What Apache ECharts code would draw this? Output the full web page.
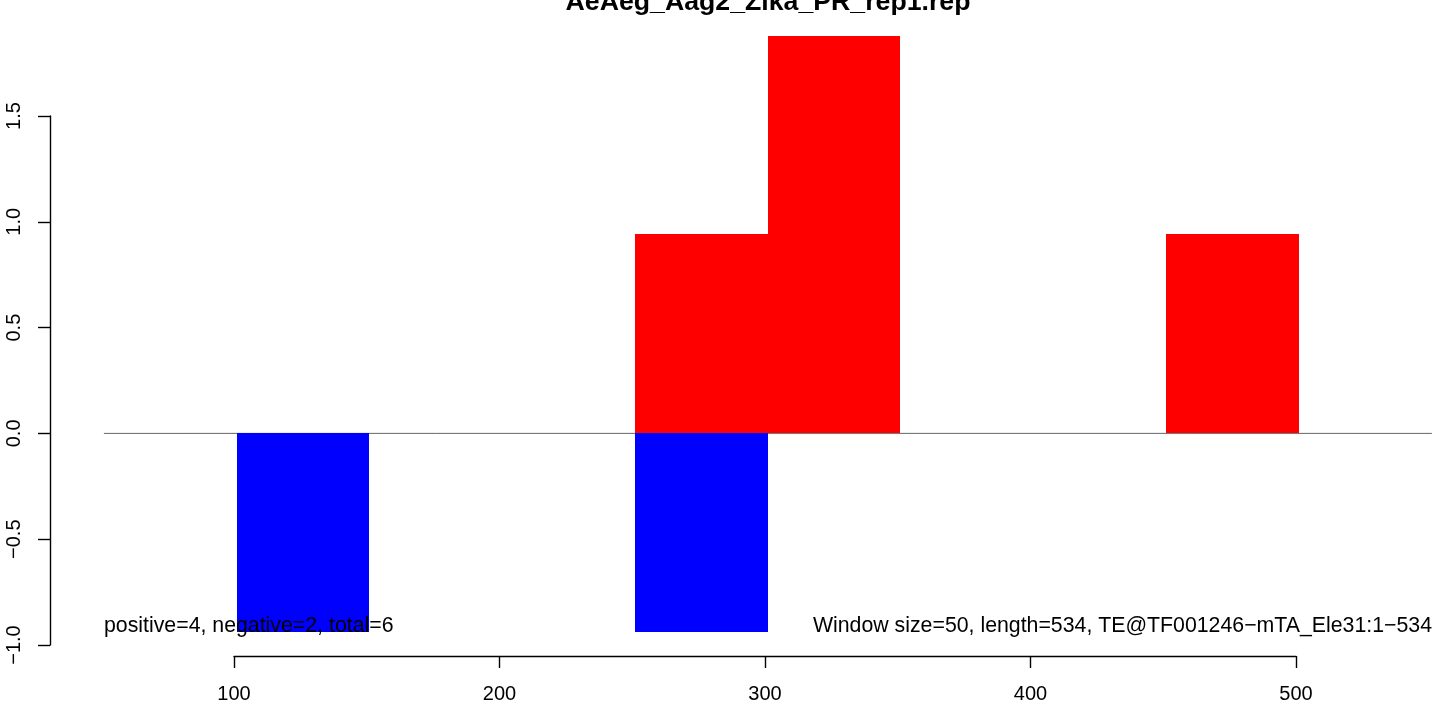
<!DOCTYPE html>
<html>
<head>
<meta charset="utf-8">
<script src="https://cdn.jsdelivr.net/npm/echarts@6/dist/echarts.min.js"></script>
<style>
html,body{margin:0;padding:0;background:#fff;}
#chart{width:1439px;height:707px;}
</style>
</head>
<body>
<div id="chart"></div>
<script>
// ---- data ----
const chartTitle = "AeAeg_Aag2_Zika_PR_rep1.rep";
const windowSize = 50;
const posStarts = [251, 301, 451];
const posValues = [0.94, 1.88, 0.94];
const negStarts = [101, 251];
const negValues = [-0.94, -0.94];
const xTicks = [100, 200, 300, 400, 500];
const yTicks = [-1.0, -0.5, 0.0, 0.5, 1.0, 1.5];
const plotXRange = [51, 551.2];
const leftNote = "positive=4, negative=2, total=6";
const rightNote = "Window size=50, length=534, TE@TF001246\u2212mTA_Ele31:1\u2212534";

const FONT = "'Liberation Sans', Arial, Helvetica, sans-serif";

function rectSeries(name, starts, values, color) {
  return {
    name: name,
    type: 'custom',
    clip: false,
    data: starts.map((s, i) => [s, values[i]]),
    renderItem: function (params, api) {
      const s = api.value(0), v = api.value(1);
      const p0 = api.coord([s, 0]);
      const p1 = api.coord([s + windowSize, v]);
      const x0 = Math.round(p0[0]), x1 = Math.round(p1[0]);
      const y0 = Math.round(Math.min(p0[1], p1[1])), y1 = Math.round(Math.max(p0[1], p1[1]));
      return {
        type: 'rect',
        shape: { x: x0, y: y0, width: x1 - x0, height: y1 - y0 },
        style: { fill: color }
      };
    },
    z: 2
  };
}

const chart = echarts.init(document.getElementById('chart'), null, { renderer: 'canvas' });
chart.setOption({
  animation: false,
  backgroundColor: '#ffffff',
  grid: { left: 234, right: 143, top: 116, bottom: 62, containLabel: false },
  xAxis: {
    type: 'value', min: xTicks[0], max: xTicks[xTicks.length - 1], interval: 100,
    offset: 11,
    axisLine: { show: true, onZero: false, lineStyle: { color: '#000', width: 1.4 } },
    axisTick: { show: true, length: 12, lineStyle: { color: '#000', width: 1.4 } },
    axisLabel: { show: true, margin: 28, color: '#000', fontSize: 20, fontFamily: FONT },
    splitLine: { show: false }
  },
  yAxis: {
    type: 'value', min: yTicks[0], max: yTicks[yTicks.length - 1], interval: 0.5,
    offset: 184,
    axisLine: { show: true, onZero: false, lineStyle: { color: '#000', width: 1.4 } },
    axisTick: { show: true, length: 12, lineStyle: { color: '#000', width: 1.4 } },
    axisLabel: {
      show: true, rotate: 90, margin: 26, color: '#000', fontSize: 20, fontFamily: FONT,
      formatter: function (v) { return v.toFixed(1).replace('-', '\u2212'); }
    },
    splitLine: { show: false }
  },
  series: [
    {
      name: 'zero', type: 'custom', clip: false, z: 1,
      data: [[plotXRange[0], plotXRange[1]]],
      renderItem: function (params, api) {
        const a = api.coord([api.value(0), 0]);
        const b = api.coord([api.value(1), 0]);
        return { type: 'line', shape: { x1: a[0], y1: a[1], x2: b[0], y2: b[1] },
                 style: { stroke: '#666666', lineWidth: 1 } };
      }
    },
    rectSeries('positive', posStarts, posValues, '#ff0000'),
    rectSeries('negative', negStarts, negValues, '#0000ff')
  ],
  graphic: [
    { type: 'text', z: 10,
      style: { text: chartTitle, x: 768, y: 3, align: 'center', verticalAlign: 'middle',
               font: 'bold 26.7px ' + FONT, fill: '#000' } },
    { type: 'text', z: 10,
      style: { text: leftNote, x: 104, y: 626, align: 'left', verticalAlign: 'middle',
               font: '21.3px ' + FONT, fill: '#000' } },
    { type: 'text', z: 10,
      style: { text: rightNote, x: 1432, y: 626, align: 'right', verticalAlign: 'middle',
               font: '21.3px ' + FONT, fill: '#000' } }
  ]
});
</script>
</body>
</html>
